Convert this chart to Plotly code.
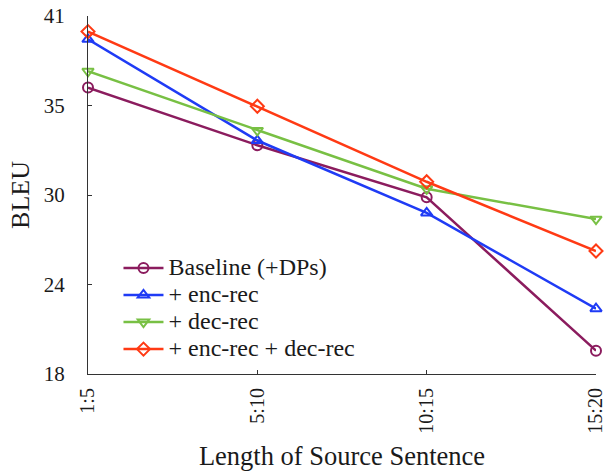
import plotly.graph_objects as go

categories = ["1:5", "5:10", "10:15", "15:20"]
baseline = [36.4, 32.7, 29.35, 19.5]
enc_rec = [39.5, 33.0, 28.35, 22.2]
dec_rec = [37.45, 33.65, 29.9, 27.95]
enc_dec_rec = [40.0, 35.2, 30.35, 25.9]

y_tickvals = [18, 23.75, 29.5, 35.25, 41]
y_ticktext = ["18", "24", "30", "35", "41"]

series = [
    ("Baseline (+DPs)", baseline, "#8B1C5E", "circle-open"),
    ("+ enc-rec", enc_rec, "#1F3BF5", "triangle-up-open"),
    ("+ dec-rec", dec_rec, "#78C044", "triangle-down-open"),
    ("+ enc-rec + dec-rec", enc_dec_rec, "#FF3A14", "diamond-open"),
]

x_idx = list(range(len(categories)))
fig = go.Figure()
for name, vals, color, sym in series:
    fig.add_trace(go.Scatter(
        x=x_idx, y=vals, name="<span style='font-size:24px'>" + name + "</span>",
        mode="lines+markers",
        line=dict(color=color, width=2.5),
        marker=dict(symbol=sym, size=10, color=color, line=dict(width=2, color=color)),
        cliponaxis=False,
    ))

font_family = "Liberation Serif, Times New Roman, serif"
fig.update_layout(
    width=608, height=476,
    margin=dict(l=88, r=12, t=16, b=102),
    paper_bgcolor="white", plot_bgcolor="white",
    font=dict(family=font_family, size=20, color="#1a1a1a"),
    showlegend=True,
    legend=dict(x=0.06, y=0.348, xanchor="left", yanchor="top",
                bgcolor="rgba(255,255,255,0)", font=dict(size=18.5, family=font_family),
                tracegroupgap=0, itemwidth=40),
)
fig.update_xaxes(
    range=[0, 3], tickvals=x_idx, ticktext=categories, tickangle=-90,
    showline=True, linecolor="#333", linewidth=1.2, ticks="inside", ticklen=4,
    tickcolor="#333", showgrid=False, zeroline=False, automargin=False,
    ticklabeloverflow="allow",
    tickfont=dict(size=20, family=font_family), ticklabelstandoff=5,
    title=dict(text="Length of Source Sentence", font=dict(size=26.5, family=font_family), standoff=13),
)
fig.update_yaxes(
    range=[18, 41], tickvals=y_tickvals, ticktext=y_ticktext,
    showline=True, linecolor="#333", linewidth=1.2, ticks="inside", ticklen=4,
    tickcolor="#333", showgrid=False, zeroline=False, automargin=False,
    tickfont=dict(size=21, family=font_family), ticklabelstandoff=18,
    title=dict(text="BLEU", font=dict(size=26, family=font_family), standoff=6),
)
fig.write_html("out.html", post_script="document.body.style.margin='0';",
               config={"displayModeBar": False})
